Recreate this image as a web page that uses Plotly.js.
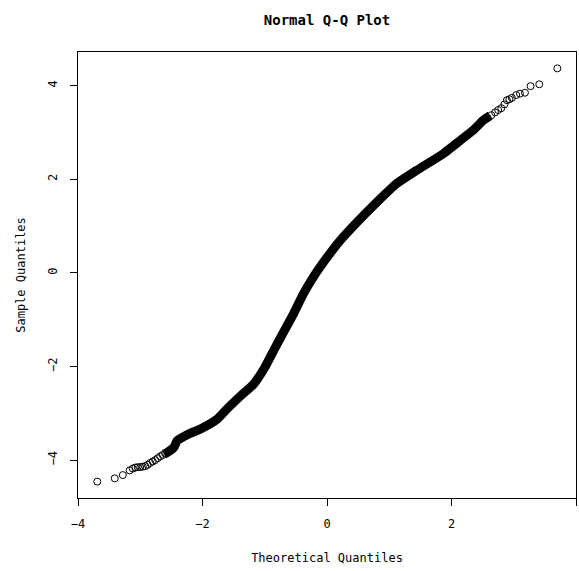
<!DOCTYPE html>
<html>
<head>
<meta charset="utf-8">
<script src="https://cdn.plot.ly/plotly-3.0.1.min.js"></script>
<style>html,body{margin:0;padding:0;background:#fff;}#chart{width:579px;height:571px;}</style>
</head>
<body>
<div id="chart"></div>
<script>
// Dense central band of the Q-Q plot (read along the band centre)
var denseTheoretical = [-2.62, -2.57, -2.46, -2.41, -2.33, -2.20, -2.04, -1.77, -1.61, -1.39, -1.18, -1.00, -0.83, -0.70, -0.54, -0.38, -0.22, 0.00, 0.21, 0.48, 0.80, 1.12, 1.44, 1.87, 2.14, 2.35, 2.51, 2.62];
var denseSample      = [-3.87, -3.84, -3.73, -3.59, -3.52, -3.43, -3.34, -3.13, -2.91, -2.63, -2.38, -2.02, -1.59, -1.27, -0.88, -0.45, -0.09, 0.33, 0.69, 1.08, 1.51, 1.91, 2.19, 2.55, 2.83, 3.05, 3.26, 3.36];

// Individually visible points in the tails
var tailTheoretical = [-3.69, -3.41, -3.28, -3.17, -3.12, -3.08, -3.04, -3.00, -2.96, -2.92, -2.88, -2.84, -2.80, -2.76, -2.72, -2.68, -2.64, -2.60,
                       2.58, 2.64, 2.70, 2.75, 2.80, 2.85, 2.89, 2.93, 2.97, 3.04, 3.10, 3.18, 3.27, 3.41, 3.70];
var tailSample      = [-4.46, -4.39, -4.32, -4.22, -4.18, -4.16, -4.15, -4.15, -4.14, -4.13, -4.10, -4.06, -4.03, -4.00, -3.96, -3.92, -3.89, -3.86,
                       3.31, 3.37, 3.43, 3.48, 3.52, 3.60, 3.69, 3.71, 3.74, 3.80, 3.83, 3.85, 3.99, 4.03, 4.37];

var xTicks = [-4, -2, 0, 2, 4];
var xTickText = ['\u22124', '\u22122', '0', '2', '4'];
var yTicks = [-4, -2, 0, 2, 4];
var yTickText = ['\u22124', '\u22122', '0', '2', '4'];

var FONT = 'DejaVu Sans Mono, Liberation Mono, monospace';

var traces = [
  {
    type: 'scatter', mode: 'lines',
    x: denseTheoretical, y: denseSample,
    line: {color: '#000', width: 9, shape: 'spline', smoothing: 0.6},
    hoverinfo: 'skip', showlegend: false
  },
  {
    type: 'scatter', mode: 'markers',
    x: tailTheoretical, y: tailSample,
    marker: {symbol: 'circle-open', size: 7, color: '#000', line: {width: 1, color: '#000'}},
    showlegend: false
  }
];

var layout = {
  width: 579, height: 571,
  paper_bgcolor: '#fff', plot_bgcolor: '#fff',
  margin: {l: 78, r: 3, t: 52, b: 73, pad: 0},
  font: {family: FONT, size: 12, color: '#000'},
  showlegend: false,
  title: {
    text: '<b>Normal Q-Q Plot</b>',
    font: {family: FONT, size: 14, color: '#000'},
    x: 0.5, xref: 'paper', xanchor: 'center',
    y: 1 - 20 / 571, yref: 'container', yanchor: 'middle'
  },
  xaxis: {
    range: [-4, 4], autorange: false,
    tickmode: 'array', tickvals: xTicks, ticktext: xTickText,
    ticks: 'outside', ticklen: 7, tickwidth: 1, tickcolor: '#000',
    showline: true, linecolor: '#000', linewidth: 1, mirror: true,
    showgrid: false, zeroline: false,
    tickfont: {family: FONT, size: 12, color: '#000'},
    ticklabelstandoff: 8,
    title: {text: 'Theoretical Quantiles', font: {family: FONT, size: 12, color: '#000'}, standoff: 23}
  },
  yaxis: {
    range: [-4.81, 4.72], autorange: false,
    tickmode: 'array', tickvals: yTicks, ticktext: yTickText,
    ticks: 'outside', ticklen: 7, tickwidth: 1, tickcolor: '#000',
    tickangle: -90,
    showline: true, linecolor: '#000', linewidth: 1, mirror: true,
    showgrid: false, zeroline: false,
    tickfont: {family: FONT, size: 12, color: '#000'},
    ticklabelstandoff: 8,
    title: {text: 'Sample Quantiles', font: {family: FONT, size: 12, color: '#000'}, standoff: 18}
  }
};

Plotly.newPlot('chart', traces, layout, {displayModeBar: false, staticPlot: true});
</script>
</body>
</html>
